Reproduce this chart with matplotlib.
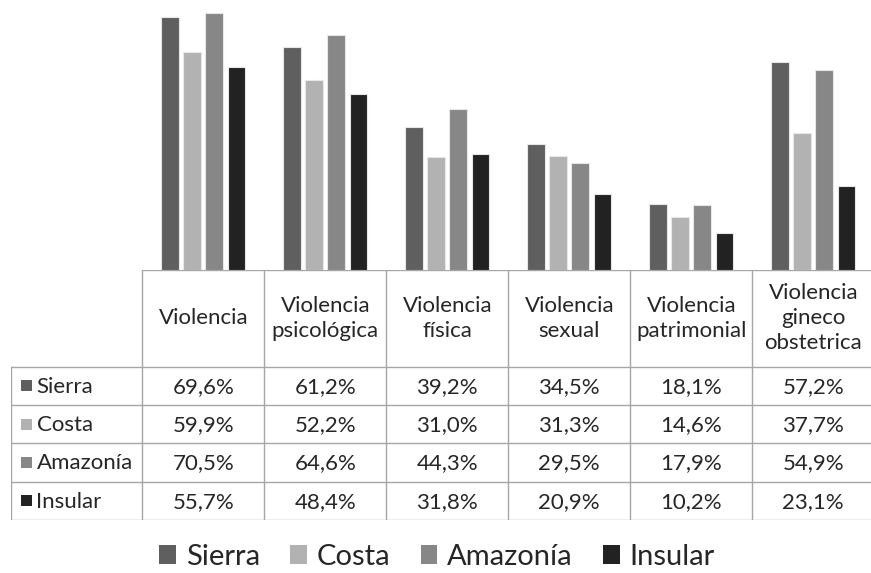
import matplotlib
matplotlib.use("Agg")
import matplotlib.pyplot as plt
from matplotlib.patches import Rectangle, Patch

# datos
categorias = ["Violencia", "Violencia\npsicológica", "Violencia\nfísica",
              "Violencia\nsexual", "Violencia\npatrimonial", "Violencia\ngineco\nobstetrica"]
regiones = ["Sierra", "Costa", "Amazonía", "Insular"]
sierra = [69.6, 61.2, 39.2, 34.5, 18.1, 57.2]
costa = [59.9, 52.2, 31.0, 31.3, 14.6, 37.7]
amazonia = [70.5, 64.6, 44.3, 29.5, 17.9, 54.9]
insular = [55.7, 48.4, 31.8, 20.9, 10.2, 23.1]
series = [sierra, costa, amazonia, insular]
colores = ["#5f5f5f", "#b2b2b2", "#878787", "#222222"]

plt.rcParams['font.family'] = ['Lato', 'DejaVu Sans']
texto = "#262626"
borde = "#a6a6a6"

W, H = 871, 573
fig = plt.figure(figsize=(W / 100, H / 100), dpi=100)

# posiciones en pixeles
x0, col = 142.3, 122.0
xlab = 10.7
y_base = 270.0
filas = [366.7, 405.0, 443.3, 481.6, 520.0]
ncat = len(categorias)
x_der = x0 + col * ncat

# grafico de barras
ax = fig.add_axes([x0 / W, 1 - y_base / H, (x_der - x0) / W, y_base / H])
paso, ancho = 0.181, 0.146
for i, (vals, c) in enumerate(zip(series, colores)):
    xs = [k + 0.5 + (i - 1.5) * paso for k in range(ncat)]
    ax.bar(xs, vals, width=ancho, color=c, edgecolor="#e6e6e6", linewidth=0.8)
ax.set_xlim(0, ncat)
ax.set_ylim(0, 74.15)
ax.axis('off')

# tabla de datos
xmin_t = (xlab - x0) / col
at = fig.add_axes([xlab / W, 1 - filas[-1] / H, (x_der - xlab) / W, (filas[-1] - y_base) / H])
at.set_xlim(xmin_t, ncat)
at.set_ylim(filas[-1], y_base)
at.axis('off')

lw = 1.0
# lineas horizontales
at.plot([0, ncat], [y_base, y_base], color=borde, lw=lw)
for y in filas:
    at.plot([xmin_t, ncat], [y, y], color=borde, lw=lw)
# lineas verticales
at.plot([xmin_t, xmin_t], [filas[0], filas[-1]], color=borde, lw=lw)
for k in range(ncat + 1):
    at.plot([k, k], [y_base, filas[-1]], color=borde, lw=lw)

fs = 16
for k, cat in enumerate(categorias):
    at.text(k + 0.5, (y_base + filas[0]) / 2, cat, ha='center', va='center',
            fontsize=fs, color=texto, linespacing=1.32)

for j, (reg, vals, c) in enumerate(zip(regiones, series, colores)):
    yc = (filas[j] + filas[j + 1]) / 2
    sq = 11.0
    at.add_patch(Rectangle(((20.7 - x0) / col, yc - sq / 2), sq / col, sq,
                           facecolor=c, edgecolor='none'))
    at.text((36.5 - x0) / col, yc + 1, reg, ha='left', va='center', fontsize=fs, color=texto)
    for k, v in enumerate(vals):
        at.text(k + 0.5, yc + 1, f"{v:.1f}%".replace('.', ','), ha='center', va='center',
                fontsize=fs, color=texto)

# leyenda
handles = [Patch(facecolor=c, edgecolor='none') for c in colores]
fig.legend(handles, regiones, loc='center', bbox_to_anchor=(0.502, 1 - 557 / H), ncol=4,
           frameon=False, fontsize=21, handlelength=0.55, handleheight=0.6,
           handletextpad=0.35, columnspacing=1.05, labelcolor=texto)

fig.savefig("out.png", dpi=100)
